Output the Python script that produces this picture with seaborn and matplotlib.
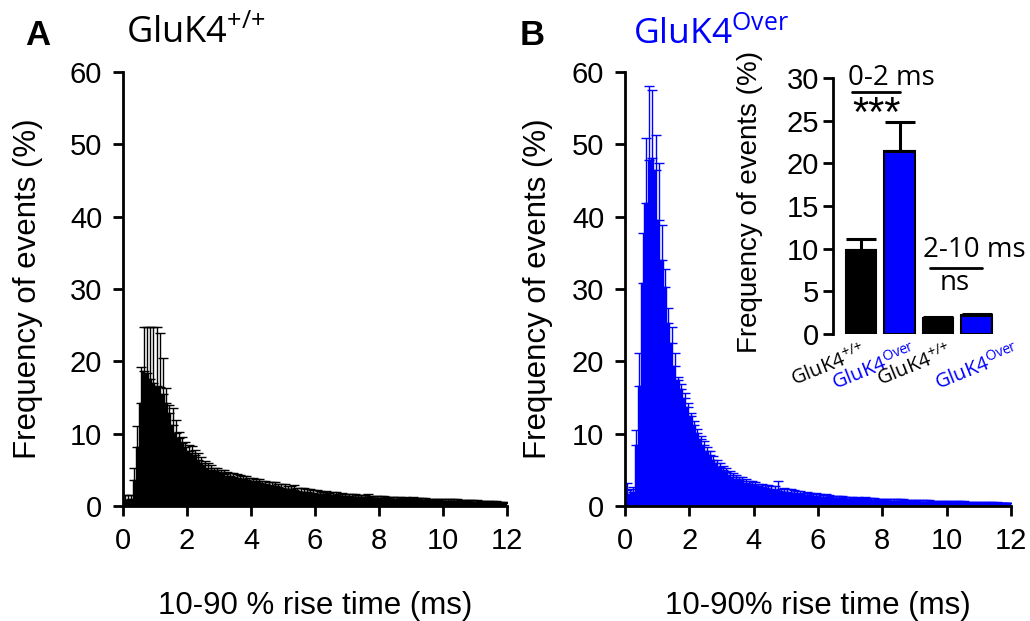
import numpy as np
import pandas as pd
import seaborn as sns
import matplotlib.pyplot as plt

# 10-90% rise time histogram, bin width 0.1 ms (0 - 12 ms)
bin_centers = np.round(np.arange(120) * 0.1 + 0.05, 2)

# GluK4+/+ (panel A), mean frequency (%) per bin
freq_wt = [
    0.6, 0.8, 1.0, 3.6, 8.2, 14.2, 18.6, 18.4, 17.6, 17.0,
    16.6, 16.4, 15.5, 14.2, 12.8, 11.2, 10.1, 9.4, 8.7, 8.2,
    7.6, 7.3, 7.0, 6.4, 6.0, 5.6, 5.3, 5.0, 4.8, 4.7,
    4.5, 4.4, 4.2, 4.1, 4.0, 3.9, 3.8, 3.7, 3.6, 3.5,
    3.4, 3.3, 3.2, 3.1, 3.0, 2.9, 2.8, 2.7, 2.6, 2.5,
    2.4, 2.4, 2.3, 2.2, 2.1, 2.0, 1.9, 1.9, 1.8, 1.8,
    1.7, 1.7, 1.6, 1.6, 1.5, 1.5, 1.5, 1.4, 1.4, 1.4,
    1.35, 1.3, 1.3, 1.25, 1.25, 1.2, 1.2, 1.15, 1.15, 1.1,
    1.1, 1.05, 1.05, 1.0, 1.0, 1.0, 0.95, 0.95, 0.95, 0.9,
    0.9, 0.9, 0.85, 0.85, 0.85, 0.8, 0.8, 0.8, 0.8, 0.75,
    0.75, 0.75, 0.7, 0.7, 0.7, 0.65, 0.65, 0.65, 0.6, 0.6,
    0.6, 0.55, 0.55, 0.55, 0.5, 0.5, 0.5, 0.45, 0.45, 0.45,
]
sem_wt = [
    0.9, 0.7, 0.5, 1.6, 2.8, 5.0, 6.2, 6.4, 7.2, 7.8,
    8.2, 7.5, 4.9, 2.1, 1.2, 2.4, 1.8, 0.8, 0.9, 0.7,
    0.8, 1.0, 0.7, 0.9, 0.8, 0.6, 0.7, 0.6, 0.5, 0.6,
    0.5, 0.6, 0.5, 0.5, 0.6, 0.5, 0.5, 0.4, 0.5, 0.4,
    0.5, 0.4, 0.6, 0.4, 0.5, 0.4, 0.5, 0.6, 0.4, 0.5,
    0.6, 0.4, 0.5, 0.7, 0.4, 0.5, 0.6, 0.4, 0.5, 0.4,
    0.5, 0.4, 0.4, 0.5, 0.3, 0.4, 0.4, 0.3, 0.4, 0.3,
    0.3, 0.4, 0.3, 0.3, 0.3, 0.3, 0.4, 0.3, 0.3, 0.3,
    0.3, 0.3, 0.2, 0.3, 0.3, 0.2, 0.3, 0.2, 0.3, 0.2,
    0.3, 0.2, 0.2, 0.3, 0.2, 0.2, 0.2, 0.2, 0.2, 0.2,
    0.2, 0.2, 0.2, 0.2, 0.2, 0.2, 0.2, 0.2, 0.2, 0.2,
    0.2, 0.2, 0.2, 0.15, 0.15, 0.15, 0.15, 0.15, 0.15, 0.15,
]

# GluK4Over (panel B)
freq_over = [
    2.2, 1.6, 2.0, 8.5, 16.6, 30.8, 41.9, 47.8, 48.1, 46.5,
    39.5, 34.0, 30.3, 25.3, 22.5, 19.3, 17.4, 16.2, 15.0, 13.7,
    12.4, 11.2, 10.1, 9.2, 8.4, 7.6, 7.0, 6.4, 5.9, 5.4,
    5.0, 4.7, 4.3, 4.0, 3.8, 3.6, 3.4, 3.2, 3.0, 2.9,
    2.8, 2.7, 2.6, 2.5, 2.4, 2.3, 2.2, 2.1, 2.0, 1.95,
    1.9, 1.8, 1.75, 1.7, 1.6, 1.55, 1.5, 1.45, 1.4, 1.35,
    1.3, 1.25, 1.2, 1.2, 1.15, 1.1, 1.1, 1.05, 1.0, 1.0,
    1.0, 0.95, 0.95, 0.9, 0.9, 0.85, 0.85, 0.85, 0.8, 0.8,
    0.8, 0.75, 0.75, 0.75, 0.7, 0.7, 0.7, 0.65, 0.65, 0.65,
    0.65, 0.6, 0.6, 0.6, 0.6, 0.55, 0.55, 0.55, 0.55, 0.55,
    0.55, 0.5, 0.5, 0.5, 0.5, 0.5, 0.45, 0.45, 0.45, 0.45,
    0.45, 0.4, 0.4, 0.4, 0.4, 0.4, 0.35, 0.35, 0.35, 0.35,
]
sem_over = [
    1.0, 0.8, 0.6, 2.0, 4.5, 6.9, 9.0, 10.2, 9.4, 4.8,
    7.9, 4.9, 2.4, 2.1, 2.3, 1.8, 0.5, 0.6, 0.6, 0.5,
    0.5, 0.6, 0.5, 0.5, 0.6, 0.5, 0.6, 0.5, 0.5, 0.6,
    0.5, 0.6, 0.5, 0.6, 0.5, 0.4, 0.6, 0.5, 0.4, 0.5,
    0.5, 0.4, 0.5, 0.4, 0.5, 0.4, 0.6, 1.3, 0.4, 0.5,
    0.4, 0.5, 0.4, 0.4, 0.5, 0.3, 0.4, 0.4, 0.3, 0.4,
    0.3, 0.3, 0.4, 0.3, 0.3, 0.3, 0.3, 0.3, 0.3, 0.3,
    0.3, 0.2, 0.3, 0.2, 0.3, 0.2, 0.2, 0.3, 0.2, 0.2,
    0.2, 0.2, 0.2, 0.2, 0.2, 0.2, 0.2, 0.2, 0.2, 0.2,
    0.2, 0.2, 0.2, 0.2, 0.2, 0.15, 0.15, 0.15, 0.15, 0.15,
    0.15, 0.15, 0.15, 0.15, 0.15, 0.15, 0.15, 0.15, 0.15, 0.15,
    0.15, 0.1, 0.1, 0.1, 0.1, 0.1, 0.1, 0.1, 0.1, 0.1,
]

# inset: summary per rise-time window
inset_groups = ["wt 0-2", "over 0-2", "wt 2-10", "over 2-10"]
inset_labels = ["GluK4$^{{+}/{+}}$", "GluK4$^{Over}$", "GluK4$^{{+}/{+}}$", "GluK4$^{Over}$"]
inset_means = [9.9, 21.5, 1.9, 2.2]
inset_sem = [1.2, 3.3, 0.1, 0.15]

BLUE = "#0000ff"
inset_colors = ["black", BLUE, "black", BLUE]

sns.set_style("ticks")
plt.rcParams["font.family"] = ["Liberation Sans", "DejaVu Sans"]
plt.rcParams["mathtext.default"] = "regular"
plt.rcParams.update({"text.color": "black", "axes.labelcolor": "black",
                     "xtick.color": "black", "ytick.color": "black",
                     "axes.edgecolor": "black"})
SANS2 = ["Open Sans", "DejaVu Sans"]

fig = plt.figure(figsize=(10.3, 6.21), dpi=100)
W, H = 1030, 621
axA = fig.add_axes([123 / W, (H - 506) / H, 384 / W, 434 / H])
axB = fig.add_axes([625 / W, (H - 506) / H, 386 / W, 434 / H])
axI = fig.add_axes([833 / W, (H - 334) / H, 162 / W, 256 / H])


def draw_hist(ax, freq, sem, color, xlabel):
    df = pd.DataFrame({"rise": bin_centers, "freq": freq})
    sns.histplot(data=df, x="rise", weights="freq", bins=120, binrange=(0, 12), ax=ax,
                 color=color, edgecolor=color, linewidth=0.3, alpha=1)
    ax.errorbar(bin_centers, freq, yerr=[np.zeros(len(sem)), sem], fmt="none",
                ecolor=color, elinewidth=1.0, capsize=3.5, capthick=1.0)
    ax.set_xlim(0, 12)
    ax.set_ylim(0, 60)
    ax.set_xticks(range(0, 13, 2))
    ax.set_yticks(range(0, 61, 10))
    ax.set_xlabel(xlabel, fontsize=22.5)
    ax.set_ylabel("Frequency of events (%)", fontsize=22.5)
    ax.xaxis.set_label_coords(0.5, -0.195)
    sns.despine(ax=ax)
    for s in ["left", "bottom"]:
        ax.spines[s].set_linewidth(2)
    ax.tick_params(direction="out", length=7, width=2, labelsize=21)
    ax.tick_params(axis="x", pad=8)
    ax.tick_params(axis="y", pad=8)


draw_hist(axA, freq_wt, sem_wt, "black", "10-90 % rise time (ms)")
axA.yaxis.set_label_coords(-0.208, 0.5)
draw_hist(axB, freq_over, sem_over, BLUE, "10-90% rise time (ms)")
axB.yaxis.set_label_coords(-0.187, 0.5)

# inset bar chart
inset_df = pd.DataFrame({"group": inset_groups, "freq": inset_means})
sns.barplot(data=inset_df, x="group", y="freq", hue="group", palette=inset_colors,
            saturation=1, legend=False, width=0.8, edgecolor="black", linewidth=1.5,
            ax=axI)
axI.errorbar(range(4), inset_means, yerr=[np.zeros(4), inset_sem], fmt="none",
             ecolor="black", elinewidth=2.2, capsize=11, capthick=2.2)
axI.set_xlim(-0.73, 3.48)
axI.set_ylim(0, 30)
axI.set_yticks(range(0, 31, 5))
axI.set_ylabel("Frequency of events (%)", fontsize=20)
axI.yaxis.set_label_coords(-0.43, 0.516)
axI.set_xlabel("")
axI.set_xticks([])
# rotated group labels; they sit a little right of the bars in the original
label_shift = [0, 9, 6, 28]
for i, (lab, c, dx) in enumerate(zip(inset_labels, inset_colors, label_shift)):
    axI.annotate(lab, xy=(i, 0), xycoords=("data", "axes fraction"),
                 xytext=(dx, -5), textcoords="offset points", ha="right", va="top",
                 rotation=22, rotation_mode="anchor", fontsize=14.5, color=c,
                 family=SANS2, annotation_clip=False)
sns.despine(ax=axI, bottom=True)
axI.spines["left"].set_linewidth(2)
axI.tick_params(axis="y", direction="out", length=7, width=2, labelsize=21, pad=3)

axI.plot([-0.23, 1.01], [28.4, 28.4], color="black", lw=2, clip_on=False)
axI.text(0.8, 29.2, "0-2 ms", ha="center", va="baseline", fontsize=20, family=SANS2)
axI.text(0.39, 24.4, "***", ha="center", va="baseline", fontsize=30)
axI.plot([1.79, 3.14], [7.73, 7.73], color="black", lw=2, clip_on=False)
axI.text(2.94, 9.0, "2-10 ms", ha="center", va="baseline", fontsize=20, family=SANS2)
axI.text(2.42, 5.16, "ns", ha="center", va="baseline", fontsize=20, family=SANS2)

# panel letters and titles
fig.text(25 / W, 1 - 45 / H, "A", fontsize=25, fontweight="bold", va="baseline")
fig.text(126 / W, 1 - 43 / H, "GluK4$^{{+}/{+}}$", fontsize=26, va="baseline", family=SANS2)
fig.text(520 / W, 1 - 45 / H, "B", fontsize=25, fontweight="bold", va="baseline")
fig.text(633 / W, 1 - 43 / H, "GluK4$^{Over}$", fontsize=25.5, va="baseline", color=BLUE,
         family=SANS2)

fig.savefig("out.png", dpi=100)
